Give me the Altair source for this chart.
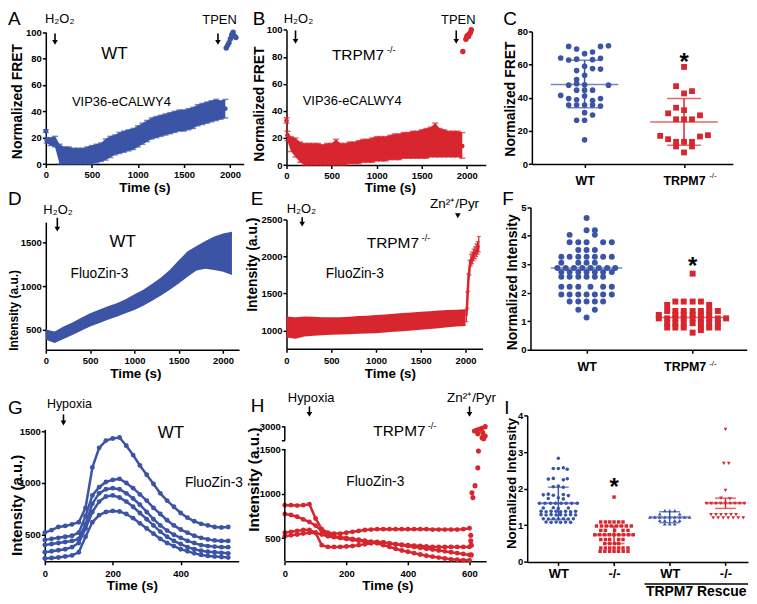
import altair as alt
import pandas as pd

W, H = 745, 590
BLUE = "#3b54a6"
RED = "#d8262e"
FONT = "Liberation Sans"
ONE = pd.DataFrame({"k": [0]})

# ======================= DATA =======================
# Panel A  (VIP36-eCALWY4, WT)
A_t = [0, 10, 50, 100, 150, 200, 250, 300, 350, 400, 450, 500, 550, 600, 650, 700, 750, 800, 850, 900,
       950, 1000, 1050, 1100, 1150, 1200, 1250, 1300, 1350, 1400, 1450, 1500, 1550, 1600, 1650, 1700,
       1750, 1800, 1850, 1900, 1950]
A_mean = [25, 18, 17, 17, 8, 6, 6, 5, 5, 5, 6, 7, 8, 9, 11, 13, 14, 16, 17, 18,
          19, 21, 23, 25, 27, 28, 29, 30, 31, 32, 33, 33, 34, 35, 37, 38, 39, 40, 41, 41, 42]
A_lo = [24, 16, 14, 13, 0, 0, 0, 0, 0, 0, 0, 0, 1, 2, 3, 5, 7, 8, 9, 10,
        11, 13, 15, 17, 19, 20, 21, 22, 23, 24, 25, 25, 26, 27, 29, 30, 31, 32, 33, 34, 35]
A_hi = [26, 20, 20, 21, 15, 13, 13, 12, 12, 12, 13, 14, 15, 16, 19, 21, 22, 24, 25, 26,
        27, 29, 31, 33, 35, 36, 37, 38, 39, 40, 41, 41, 42, 43, 45, 46, 47, 48, 49, 48, 49]
A_tpen_t = [1960, 1975, 1990, 2005, 2020, 2035, 2050, 2065]
A_tpen_v = [88, 90, 92, 95, 98, 100, 97, 96]
A_arrows = [100, 1870]

# Panel B  (VIP36-eCALWY4, TRPM7 -/-)
B_t = A_t
B_mean = [33, 22, 17, 14, 10, 8, 8, 7, 8, 7, 8, 7, 8, 8, 8, 9, 9, 9, 10, 10,
          10, 11, 11, 11, 12, 12, 12, 13, 13, 14, 14, 14, 14, 15, 16, 15, 15, 15, 15, 15, 14]
B_lo = [31, 18, 10, 6, 2, 0, 0, 0, 0, 0, 0, 0, 0, 0, 0, 1, 1, 1, 2, 2,
        2, 3, 3, 3, 4, 4, 4, 5, 5, 5, 5, 5, 5, 6, 6, 6, 6, 6, 6, 6, 5]
B_hi = [35, 25, 21, 20, 17, 16, 16, 16, 16, 15, 16, 16, 19, 16, 16, 17, 17, 18, 19, 19,
        20, 21, 21, 21, 22, 23, 23, 24, 24, 25, 25, 26, 27, 28, 31, 27, 26, 25, 25, 25, 24]
B_tpen_t = [1956, 1990, 2000, 2010, 2020, 2030, 2040, 2050]
B_tpen_v = [84, 93, 95, 96, 95, 97, 98, 100]
B_arrows = [100, 1883]

# Panel C  (Normalized FRET scatter)
C_wt_off = [-0.16, -0.08, 0, 0.08, 0.16, 0.24, -0.24, -0.16, -0.08, 0.08, 0.16, -0.08, 0, 0.08, 0.16,
            -0.08, 0, -0.16, 0, 0.24, -0.08, -0.08, 0, 0.08, -0.24, -0.16, -0.08, 0, 0.08, 0.16,
            -0.16, -0.08, 0, 0.08, 0.16, 0, 0.08, -0.08, 0, 0]
C_wt_val = [71.0, 69.4, 66.6, 67.6, 71.0, 71.4, 64.0, 62.8, 63.3, 63.0, 63.8, 56.4, 59.0, 57.6, 57.3,
            51.0, 53.6, 47.6, 47.8, 47.6, 48.5, 44.6, 44.6, 44.6, 41.4, 39.5, 38.8, 41.0, 38.3, 39.5,
            35.6, 35.6, 35.6, 35.6, 35.0, 31.0, 29.6, 26.4, 26.4, 14.6]
C_ko_off = [0, -0.08, 0, 0.08, -0.08, 0, -0.16, -0.08, 0, 0.08, 0.16, -0.24, -0.16, -0.08, 0, 0.08,
            0.16, 0.24, -0.08, 0.08, 0]
C_ko_val = [58.6, 47.0, 42.6, 44.0, 34.0, 32.5, 30.6, 27.0, 27.0, 27.0, 29.4, 17.0, 15.0, 13.4, 13.4,
            13.4, 16.6, 17.4, 10.6, 10.6, 7.0]
C_pos = [1, 2]
C_kind = ["WT", "KO"]
C_mean = [48.0, 25.4]
C_upper = [62.6, 39.6]
C_lower = [34.0, 11.4]
C_labels = ["WT", "TRPM7"]

# Panel D  (FluoZin-3, WT)
D_t = [0, 100, 200, 300, 400, 500, 600, 700, 800, 900, 1000, 1100, 1200, 1300, 1400, 1500, 1600,
       1700, 1800, 1900, 2000, 2100]
D_lo = [386, 348, 394, 440, 490, 538, 575, 615, 650, 690, 728, 775, 835, 895, 960, 1032, 1110,
        1180, 1200, 1185, 1165, 1130]
D_hi = [505, 480, 538, 585, 640, 690, 730, 770, 805, 850, 908, 960, 1030, 1100, 1190, 1298, 1400,
        1460, 1520, 1570, 1605, 1625]
D_arrows = [130]

# Panel E  (FluoZin-3, TRPM7 -/-)
E_t = [0, 100, 200, 300, 400, 500, 600, 700, 800, 900, 1000, 1100, 1200, 1300, 1400, 1500, 1600,
       1700, 1800, 1900, 2000]
E_lo = [905, 890, 920, 930, 935, 942, 945, 950, 955, 960, 964, 972, 982, 992, 1000, 1009, 1020,
        1032, 1043, 1053, 1062]
E_hi = [1190, 1180, 1190, 1185, 1180, 1178, 1180, 1185, 1195, 1200, 1210, 1218, 1227, 1236, 1245,
        1254, 1262, 1270, 1276, 1282, 1286]
E2_t = [2010, 2020, 2030, 2045, 2060, 2075, 2090, 2105, 2120, 2135, 2148]
E2_m = [1200, 1400, 1650, 1850, 1950, 1980, 2020, 2050, 2080, 2100, 2150]
E2_lo = [1120, 1300, 1530, 1750, 1870, 1900, 1940, 1970, 2000, 2030, 2060]
E2_hi = [1280, 1520, 1770, 1950, 2030, 2060, 2100, 2130, 2170, 2200, 2270]
E_arrows = [175]
E_zn = [1914]

# Panel F  (Normalized intensity scatter)
F_wt_off = [0, 0, 0.078, -0.16, 0.078, -0.16, -0.078, 0, 0.156, 0.238, -0.078, 0, 0.078,
            -0.238, -0.16, -0.078, 0, 0.078, 0.156, 0.238, -0.238, -0.078, 0, 0.078,
            -0.275, -0.197, -0.119, -0.04, 0.037, 0.116, 0.194, 0.27,
            -0.238, -0.16, -0.078, 0, 0.078, 0.156, 0.238, -0.238, -0.16, -0.078, 0, 0.078, 0.156,
            -0.238, -0.16, -0.078, 0.037, 0.156, 0.238, -0.238, -0.16, -0.078, 0, 0.078, 0.156, 0.238,
            -0.16, -0.078, 0, 0.078, 0.156, -0.078, 0.078, 0]
F_wt_val = [4.62, 4.19, 4.19, 4.03, 4.03, 3.77, 3.77, 3.77, 3.77, 3.77, 3.5, 3.5, 3.5,
            3.26, 3.26, 3.26, 3.26, 3.26, 3.26, 3.26, 3.05, 3.05, 3.05, 3.05,
            2.87, 2.87, 2.87, 2.87, 2.87, 2.87, 2.87, 2.87,
            2.73, 2.73, 2.73, 2.73, 2.73, 2.73, 2.73, 2.56, 2.56, 2.56, 2.56, 2.56, 2.56,
            2.21, 2.21, 2.21, 2.21, 2.21, 2.21, 1.94, 1.94, 1.94, 1.94, 1.94, 1.94, 1.94,
            1.69, 1.69, 1.69, 1.69, 1.69, 1.40, 1.40, 1.13]
F_ko_off = [0, -0.163, -0.084, 0, 0.078, -0.24, 0.156, -0.24, -0.163, -0.084, 0, 0.078, 0.156, 0.238,
            -0.319, -0.163, -0.084, 0, 0.078, 0.156, -0.319, -0.24, -0.163, -0.084, 0, 0.078, 0.156,
            0.238, 0.316, -0.24, -0.163, -0.084, 0, 0.078, 0.156, 0.238, -0.24, -0.163, -0.084,
            0.078, 0.156, 0.238, 0.078, 0]
F_ko_val = [2.67, 1.69, 1.69, 1.69, 1.69, 1.57, 1.57, 1.36, 1.36, 1.36, 1.36, 1.36, 1.36, 1.36,
            1.22, 1.22, 1.22, 1.22, 1.22, 1.22, 1.10, 1.10, 1.10, 1.10, 1.10, 1.10, 1.10,
            1.10, 1.10, 0.93, 0.93, 0.93, 0.93, 0.93, 0.93, 0.93, 0.78, 0.78, 0.78,
            0.78, 0.78, 0.78, 0.69, 0.60]
F_pos = [1, 2]
F_kind = ["WT", "KO"]
F_mean = [2.87, 1.13]

# Panel G  (Hypoxia, WT single-cell traces)
G_t = [0, 20, 40, 60, 80, 100, 120, 140, 160, 180, 200, 220, 240, 260, 280, 300, 320, 340, 360, 380,
       400, 420, 440, 460, 480, 500, 520, 540]
G_c1 = [520, 545, 575, 585, 600, 620, 760, 1150, 1340, 1410, 1430, 1440, 1360, 1270, 1170, 1080, 990,
        900, 830, 770, 710, 665, 630, 605, 590, 575, 570, 575]
G_c2 = [450, 460, 470, 480, 490, 520, 680, 880, 960, 1010, 1030, 1040, 1000, 950, 890, 830, 760, 700,
        640, 590, 550, 520, 490, 470, 455, 445, 440, 440]
G_c3 = [400, 410, 420, 430, 440, 460, 600, 800, 900, 940, 950, 940, 900, 850, 790, 720, 650, 590, 540,
        500, 470, 440, 420, 400, 390, 385, 380, 380]
G_c4 = [330, 340, 350, 360, 380, 420, 560, 720, 820, 870, 880, 860, 820, 770, 710, 650, 590, 530, 480,
        440, 410, 380, 360, 345, 335, 330, 325, 320]
G_c5 = [270, 275, 280, 290, 300, 330, 480, 620, 690, 720, 730, 725, 700, 660, 610, 560, 510, 460, 420,
        390, 360, 340, 320, 305, 295, 290, 285, 280]
G_arrows = [55]

# Panel H  (Hypoxia, TRPM7 -/- single-cell traces)
H_t = [0, 20, 40, 60, 80, 100, 120, 140, 160, 180, 200, 220, 240, 260, 280, 300, 320, 340, 360, 380,
       400, 420, 440, 460, 480, 500, 520, 540, 560, 580, 600]
H_c1 = [870, 870, 865, 870, 880, 720, 600, 560, 550, 550, 560, 570, 580, 590, 595, 600, 600, 600, 600,
        600, 600, 600, 600, 600, 595, 595, 595, 595, 595, 600, 610]
H_c2 = [770, 760, 740, 710, 680, 640, 580, 540, 520, 510, 500, 490, 480, 470, 460, 455, 450, 440, 430,
        420, 410, 400, 390, 380, 370, 360, 350, 340, 330, 320, 310]
H_c3 = [560, 570, 580, 590, 590, 560, 420, 400, 400, 400, 405, 410, 420, 430, 440, 450, 450, 440, 430,
        425, 420, 415, 410, 405, 400, 400, 400, 400, 400, 400, 400]
H_c4 = [520, 530, 540, 550, 560, 560, 540, 520, 510, 500, 490, 480, 470, 460, 450, 440, 420, 400, 380,
        360, 345, 330, 315, 300, 290, 280, 270, 260, 255, 250, 250]
H_post_t = [604, 604, 606, 606, 608, 611, 618, 627, 629, 616, 624, 627, 632, 640, 641, 643, 646, 651, 651]
H_post_v = [530, 470, 420, 310, 1010, 955, 1090, 1290, 1480, 2805, 2850, 2685, 2880, 2925, 2505, 2730,
            2460, 3000, 2580]
H_arrows = [80, 600]
H_break_lo = [238, 2400]
H_break_hi = [1500, 3000]

# Panel I  (Normalized intensity with rescue)
I_wt_off = [0, -0.09, 0, 0.09, 0.16, -0.18, -0.09, 0.09, 0.16, -0.09, 0, 0.09,
            -0.27, -0.18, -0.09, 0.09, 0.18, -0.18, 0, 0.09,
            -0.34, -0.24, -0.14, -0.05, 0.05, 0.14, 0.24, 0.34, -0.27, -0.09, 0, 0.18,
            -0.31, -0.22, -0.13, -0.04, 0.04, 0.13, 0.22, 0.31,
            -0.31, -0.22, -0.13, -0.04, 0.04, 0.13, 0.22, 0.31,
            -0.27, -0.18, -0.09, 0, 0.09, 0.18, 0.27, -0.22, -0.13, -0.04, 0.04, 0.13, 0.22]
I_wt_val = [2.83, 2.55, 2.55, 2.57, 2.53, 2.26, 2.28, 2.24, 2.27, 2.05, 2.07, 2.04,
            1.83, 1.85, 1.82, 1.84, 1.81, 1.73, 1.75, 1.72,
            1.6, 1.6, 1.6, 1.6, 1.6, 1.6, 1.6, 1.6, 1.47, 1.48, 1.46, 1.47,
            1.38, 1.37, 1.38, 1.38, 1.37, 1.38, 1.37, 1.38,
            1.29, 1.28, 1.29, 1.28, 1.29, 1.28, 1.29, 1.28,
            1.18, 1.17, 1.18, 1.17, 1.18, 1.17, 1.18, 1.09, 1.08, 1.09, 1.08, 1.09, 1.08]
I_ko_off = [0, -0.24, -0.155, -0.077, 0, 0.083, 0.161,
            -0.315, -0.226, -0.137, -0.048, 0.042, 0.131, 0.22, 0.31,
            -0.238, -0.155, 0.01, 0.161, 0.25,
            -0.345, -0.26, -0.17, -0.085, 0, 0.085, 0.17, 0.26, 0.345,
            -0.238, -0.155, -0.077, 0.083, 0.161, -0.167, -0.077, 0.01, 0.083,
            -0.238, -0.155, -0.077, 0, 0.083, 0.161, 0.25,
            -0.25, -0.165, -0.08, 0, 0.08, 0.165, 0.25]
I_ko_val = [1.77, 1.09, 1.09, 1.09, 1.09, 1.09, 1.09,
            0.98, 0.98, 0.98, 0.98, 0.98, 0.98, 0.98, 0.98,
            0.86, 0.86, 0.86, 0.86, 0.86,
            0.74, 0.74, 0.74, 0.74, 0.74, 0.74, 0.74, 0.74, 0.74,
            0.61, 0.61, 0.61, 0.61, 0.61, 0.50, 0.50, 0.50, 0.50,
            0.38, 0.38, 0.38, 0.38, 0.38, 0.38, 0.38,
            0.29, 0.29, 0.29, 0.29, 0.29, 0.29, 0.29]
I_rwt_off = [-0.089, 0, 0.089, -0.179, 0.179, -0.357, -0.268, -0.179, -0.089, 0, 0.089, 0.179, 0.268,
             0.357, -0.179, -0.089, 0.089, 0.179, -0.089, 0, 0.089]
I_rwt_val = [1.40, 1.40, 1.40, 1.31, 1.31, 1.22, 1.22, 1.22, 1.22, 1.22, 1.22, 1.22, 1.22, 1.22,
             1.13, 1.13, 1.13, 1.13, 1.04, 1.04, 1.04]
I_rko_off = [0, -0.03, 0.06, 0, -0.08, 0.08, -0.34, -0.255, -0.17, -0.085, 0, 0.085, 0.17, 0.255, 0.34,
             -0.26, -0.17, -0.08, 0.01, 0.1, 0.19, -0.22, -0.13, -0.04, 0.05, 0.14, 0.23, 0.32]
I_rko_val = [3.62, 2.69, 2.69, 1.95, 1.74, 1.72, 1.6, 1.6, 1.6, 1.6, 1.6, 1.6, 1.6, 1.6, 1.6,
             1.29, 1.29, 1.29, 1.29, 1.29, 1.29, 1.2, 1.2, 1.2, 1.2, 1.2, 1.2, 1.2]
I_pos = [1, 2, 3, 4]
I_kind = ["WT", "KO", "WT", "KO"]
I_mean = [1.60, 0.74, 1.22, 1.60]
I_upper = [2.04, 0.98, 1.37, 1.74]
I_lower = [1.16, 0.50, 1.07, 1.46]
I_labels = ["WT", "-/-", "WT", "-/-"]

# ======================= HELPERS =======================
COLOR = alt.Color("kind:N", scale=alt.Scale(domain=["WT", "KO"], range=[BLUE, RED]), legend=None)


def scale_fn(dom, rng, ch, axis):
    sc = alt.Scale(domain=dom, range=rng, nice=False, zero=False, type="linear")

    def f(field):
        if ch == "x":
            return alt.X(field, type="quantitative", scale=sc, axis=axis)
        return alt.Y(field, type="quantitative", scale=sc, axis=axis)
    return f


def xaxis(y, values, title=None, title_x=None, title_y=None, pad=3.5, size=9.5, expr=None, tsize=13.5,
          **extra):
    kw = dict(orient="bottom", offset=y - H, values=values, labelPadding=pad, labelFontSize=size,
              format="d")
    if title is None:
        kw["title"] = None
    else:
        kw.update(title=title, titleY=title_y, titleBaseline="alphabetic", titleFontSize=tsize)
        if title_x is not None:
            kw["titleX"] = title_x
    if expr:
        kw["labelExpr"] = expr
    kw.update(extra)
    return alt.Axis(**kw)


def yaxis(x, values, title, title_x, title_y, tsize=14, expr=None, domain=True):
    kw = dict(orient="left", offset=-x, values=values, title=title, titleX=title_x, titleY=title_y,
              titleBaseline="middle", titleAngle=-90, titleAlign="center", titleFontSize=tsize,
              labelPadding=1, format="d")
    if expr:
        kw["labelExpr"] = expr
    if not domain:
        kw["domain"] = False
    return alt.Axis(**kw)


def txt(s, x, y, size, weight="normal", align="center", color="black"):
    return alt.Chart(ONE).mark_text(text=s, font=FONT, fontSize=size, fontWeight=weight, align=align,
                                    baseline="alphabetic", color=color).encode(x=alt.value(x), y=alt.value(y))


def arrows(X, ts, y0, y1, shaft=True):
    df = pd.DataFrame({"t": ts})
    out = []
    if shaft:
        out.append(alt.Chart(df).mark_rule(color="black", strokeWidth=1.6).encode(
            x=X("t"), y=alt.value(y0), y2=alt.value(y1 - 3)))
    out.append(alt.Chart(df).mark_point(shape="triangle-down", filled=True, size=32, color="black",
                                        opacity=1, strokeWidth=0).encode(x=X("t"), y=alt.value(y1 - 3)))
    return out


def star(X, pos, y, size=24):
    return alt.Chart(pd.DataFrame({"g": [pos]})).mark_text(
        text="*", font=FONT, fontSize=size, fontWeight="bold", baseline="alphabetic", color="black"
    ).encode(x=X("g"), y=alt.value(y))


def band_panel(X, Y, t, lo, hi, color, caps=True):
    df = pd.DataFrame({"t": t, "lo": lo, "hi": hi})
    out = [alt.Chart(df).mark_area(color=color, opacity=1).encode(x=X("t"), y=Y("lo"), y2="hi")]
    if caps:
        for f in ("lo", "hi"):
            out.append(alt.Chart(df).mark_tick(orient="horizontal", size=6, thickness=1.5, color=color)
                       .encode(x=X("t"), y=Y(f)))
    return out


# ======================= PANEL A =======================
XA = scale_fn([0, 2150], [38, 237], "x", xaxis(155.3, [0, 500, 1000, 1500, 2000], "Time (s)", 137, 28, pad=2))
YA = scale_fn([0, 100], [155.3, 22.7], "y", yaxis(38, [0, 20, 40, 60, 80, 100], "Normalized FRET", -28.5, 92))
dfA = pd.DataFrame({"t": A_t, "m": A_mean})
panelA = alt.layer(
    *band_panel(XA, YA, A_t, A_lo, A_hi, BLUE),
    alt.Chart(dfA).mark_circle(size=22, color=BLUE, opacity=1).encode(x=XA("t"), y=YA("m")),
    alt.Chart(pd.DataFrame({"t": A_tpen_t, "v": A_tpen_v})).mark_circle(size=30, color=BLUE, opacity=1)
    .encode(x=XA("t"), y=YA("v")),
    *arrows(XA, A_arrows, 24, 36),
    txt("H₂O₂", 52, 13, 13), txt("TPEN", 212.7, 14, 13),
    txt("WT", 107, 49.3, 17), txt("VIP36-eCALWY4", 114, 97, 13),
    txt("A", 0, 16, 19, align="left"),
)

# ======================= PANEL B =======================
XB = scale_fn([0, 2210], [280, 480.3], "x", xaxis(156.3, [0, 500, 1000, 1500, 2000], "Time (s)", 384, 27, pad=2.5))
YB = scale_fn([0, 100], [156.3, 20.3], "y", yaxis(280, [0, 20, 40, 60, 80, 100], "Normalized FRET", -27, 94.5))
dfB = pd.DataFrame({"t": B_t, "m": B_mean})
panelB = alt.layer(
    *band_panel(XB, YB, B_t, B_lo, B_hi, RED),
    alt.Chart(dfB).mark_circle(size=22, color=RED, opacity=1).encode(x=XB("t"), y=YB("m")),
    alt.Chart(pd.DataFrame({"t": B_tpen_t, "v": B_tpen_v})).mark_circle(size=30, color=RED, opacity=1)
    .encode(x=XB("t"), y=YB("v")),
    *arrows(XB, B_arrows, 21, 35),
    txt("H₂O₂", 292, 13, 13), txt("TPEN", 452.7, 14, 13),
    txt("TRPM7", 325.7, 51, 15.5, align="left"), txt("-/-", 381, 44, 9, align="left"),
    txt("VIP36-eCALWY4", 346, 96.3, 13),
    txt("B", 246, 16, 19, align="left"),
)

# ======================= PANEL C =======================
expr_C = "['','" + C_labels[0] + "','" + C_labels[1] + "'][datum.value]"
XC = scale_fn([0.47, 2.49], [526.7, 728.7], "x", xaxis(155.3, C_pos, None, pad=7.3, size=12.5, expr=expr_C))
YC = scale_fn([0, 80], [155.3, 22], "y", yaxis(526.7, [0, 20, 40, 60, 80], "Normalized FRET", -21.2, 89.5))
dfCw = pd.DataFrame({"x": [C_pos[0] + o for o in C_wt_off], "v": C_wt_val})
dfCk = pd.DataFrame({"x": [C_pos[1] + o for o in C_ko_off], "v": C_ko_val})
dfCs = pd.DataFrame({"g": C_pos, "kind": C_kind, "m": C_mean, "lo": C_lower, "hi": C_upper})
panelC = alt.layer(
    alt.Chart(dfCw).mark_circle(size=32, color=BLUE, opacity=1).encode(x=XC("x"), y=YC("v")),
    alt.Chart(dfCk).mark_point(shape="square", filled=True, size=34, color=RED, opacity=1, strokeWidth=0)
    .encode(x=XC("x"), y=YC("v")),
    alt.Chart(dfCs).mark_rule(strokeWidth=1.5).encode(x=XC("g"), y=YC("lo"), y2="hi", color=COLOR),
    alt.Chart(dfCs).mark_tick(orient="horizontal", size=34, thickness=1.5).encode(x=XC("g"), y=YC("hi"), color=COLOR),
    alt.Chart(dfCs).mark_tick(orient="horizontal", size=34, thickness=1.5).encode(x=XC("g"), y=YC("lo"), color=COLOR),
    alt.Chart(dfCs).mark_tick(orient="horizontal", size=68, thickness=1.5).encode(x=XC("g"), y=YC("m"), color=COLOR),
    star(XC, 2, 61),
    txt("-/-", 705, 169, 8, align="left"),
    txt("C", 498, 16, 19, align="left"),
)

# ======================= PANEL D =======================
XD = scale_fn([0, 2180], [38, 232.3], "x", xaxis(342, [0, 500, 1000, 1500, 2000], "Time (s)", 128, 27.5, pad=2))
YD = scale_fn([272, 1735], [342, 213.7], "y", yaxis(38, [500, 1000, 1500], "Intensity (a.u.)", -32.5, 302, tsize=12))
panelD = alt.layer(
    *band_panel(XD, YD, D_t, D_lo, D_hi, BLUE, caps=False),
    *arrows(XD, D_arrows, 209.3, 223.7),
    txt("H₂O₂", 50.3, 206, 13),
    txt("WT", 115.3, 238.7, 17), txt("FluoZin-3", 92, 270, 13.8),
    txt("D", 0, 196, 19, align="left"),
)

# ======================= PANEL E =======================
XE = scale_fn([0, 2190], [280, 477.1], "x", xaxis(341, [0, 500, 1000, 1500, 2000], "Time (s)", 384, 28.5, pad=3.5))
YE = scale_fn([754, 2500], [341, 211], "y", yaxis(280, [1000, 1500, 2000, 2500], "Intensity (a.u.)", -34, 256, tsize=14))
dfE2 = pd.DataFrame({"t": E2_t, "m": E2_m, "lo": E2_lo, "hi": E2_hi})
panelE = alt.layer(
    *band_panel(XE, YE, E_t, E_lo, E_hi, RED, caps=False),
    alt.Chart(dfE2).mark_rule(color=RED, strokeWidth=1.3).encode(x=XE("t"), y=YE("lo"), y2="hi"),
    alt.Chart(dfE2).mark_tick(orient="horizontal", size=4, thickness=1.3, color=RED).encode(x=XE("t"), y=YE("hi")),
    alt.Chart(dfE2).mark_tick(orient="horizontal", size=4, thickness=1.3, color=RED).encode(x=XE("t"), y=YE("lo")),
    alt.Chart(dfE2).mark_line(color=RED, strokeWidth=2.5).encode(x=XE("t"), y=YE("m")),
    *arrows(XE, E_arrows, 208.7, 218.7),
    *arrows(XE, E_zn, 203.7, 210.3, shaft=False),
    txt("H₂O₂", 295, 204.3, 13), txt("Zn²⁺/Pyr", 449, 199.3, 13.5),
    txt("TRPM7", 360.7, 239.7, 15.5, align="left"), txt("-/-", 416, 233, 9, align="left"),
    txt("FluoZin-3", 348.7, 270, 13.8),
    txt("E", 244, 196, 19, align="left"),
)

# ======================= PANEL F =======================
expr_F = "['','" + C_labels[0] + "','" + C_labels[1] + "'][datum.value]"
XF = scale_fn([0.471, 2.51], [525.3, 742.7], "x",
              xaxis(342, F_pos, None, pad=7.6, size=12.5, expr=expr_F,
                    labelOffset={"condition": {"test": "datum.value == 2", "value": -8}, "value": 0}))
YF = scale_fn([0, 5], [342, 198.7], "y", yaxis(525.3, [0, 1, 2, 3, 4, 5], "Normalized Intensity", -17.8, 273.7, tsize=14))
dfFw = pd.DataFrame({"x": [F_pos[0] + o for o in F_wt_off], "v": F_wt_val})
dfFk = pd.DataFrame({"x": [F_pos[1] + o for o in F_ko_off], "v": F_ko_val})
dfFs = pd.DataFrame({"g": F_pos, "kind": F_kind, "m": F_mean})
panelF = alt.layer(
    alt.Chart(dfFw).mark_circle(size=36, color=BLUE, opacity=1).encode(x=XF("x"), y=YF("v")),
    alt.Chart(dfFk).mark_point(shape="square", filled=True, size=36, color=RED, opacity=1, strokeWidth=0)
    .encode(x=XF("x"), y=YF("v")),
    alt.Chart(dfFs).mark_tick(orient="horizontal", size=72, thickness=1.5).encode(x=XF("g"), y=YF("m"), color=COLOR),
    star(XF, 2, 266),
    txt("-/-", 705, 358.5, 8, align="left"),
    txt("F", 497, 196, 19, align="left"),
)

# ======================= PANEL G =======================
XG = scale_fn([0, 571], [37, 232], "x", xaxis(554.7, [0, 200, 400], "Time (s)", 124.5, 28, pad=3.5))
YG = scale_fn([243, 1519], [554.7, 422], "y", yaxis(37, [500, 1000, 1500], "Intensity (a.u.)", -28.5, 498, tsize=15))
dfG = pd.concat([pd.DataFrame({"t": G_t, "v": c, "id": i}) for i, c in
                 enumerate([G_c1, G_c2, G_c3, G_c4, G_c5])])
panelG = alt.layer(
    alt.Chart(dfG).mark_line(color=BLUE, strokeWidth=2.5).encode(x=XG("t"), y=YG("v"), detail="id:N"),
    alt.Chart(dfG).mark_circle(size=24, color=BLUE, opacity=1).encode(x=XG("t"), y=YG("v")),
    *arrows(XG, G_arrows, 407, 418.7),
    txt("Hypoxia", 61.7, 401, 12.5),
    txt("WT", 163.7, 430.3, 17), txt("FluoZin-3", 207, 480, 13.8),
    txt("G", 0, 407, 19, align="left"),
)

# ======================= PANEL H =======================
XH = scale_fn([0, 654], [278.3, 480.7], "x", xaxis(554.7, [0, 200, 400, 600], "Time (s)", 381.5, 28, pad=3.5))
YH = scale_fn([238, 1500, 2400, 3000], [554.7, 442, 432.7, 419.3], "y",
              yaxis(278.3, [500, 1000, 1500, 2400, 3000], "Intensity (a.u.)", -31, 472, tsize=15.5,
                    expr="datum.value == 2400 ? '' : datum.label", domain=False))
dfH = pd.concat([pd.DataFrame({"t": H_t, "v": c, "id": i}) for i, c in
                 enumerate([H_c1, H_c2, H_c3, H_c4])])
dfHax = pd.DataFrame({"x": [0, 0], "lo": H_break_lo, "hi": H_break_hi})
panelH = alt.layer(
    alt.Chart(dfH).mark_line(color=RED, strokeWidth=2.5).encode(x=XH("t"), y=YH("v"), detail="id:N"),
    alt.Chart(dfH).mark_circle(size=24, color=RED, opacity=1).encode(x=XH("t"), y=YH("v")),
    alt.Chart(pd.DataFrame({"t": H_post_t, "v": H_post_v})).mark_circle(size=26, color=RED, opacity=1)
    .encode(x=XH("t"), y=YH("v")),
    alt.Chart(dfHax).mark_rule(color="black", strokeWidth=1.5).encode(x=XH("x"), y=YH("lo"), y2="hi"),
    *arrows(XH, H_arrows, 399, 410),
    txt("Hypoxia", 304.8, 395, 13), txt("Zn²⁺/Pyr", 466, 395, 13.5),
    txt("TRPM7", 367.3, 428.7, 15.5, align="left"), txt("-/-", 422, 422, 9, align="left"),
    txt("FluoZin-3", 369.3, 479.3, 13.8),
    txt("H", 244, 405, 19, align="left"),
)

# ======================= PANEL I =======================
expr_I = "['','" + "','".join(I_labels) + "'][datum.value]"
XI = scale_fn([0.441, 4.405], [522, 744], "x", xaxis(555.3, I_pos, None, pad=2.2, size=13, expr=expr_I))
YI = scale_fn([0, 4], [555.3, 408], "y", yaxis(522, [0, 1, 2, 3, 4], "Normalized Intensity", -16, 476, tsize=13.5))
dfIw = pd.DataFrame({"x": [I_pos[0] + o for o in I_wt_off], "v": I_wt_val})
dfIk = pd.DataFrame({"x": [I_pos[1] + o for o in I_ko_off], "v": I_ko_val})
dfIrw = pd.DataFrame({"x": [I_pos[2] + o for o in I_rwt_off], "v": I_rwt_val})
dfIrk = pd.DataFrame({"x": [I_pos[3] + o for o in I_rko_off], "v": I_rko_val})
dfIs = pd.DataFrame({"g": I_pos, "kind": I_kind, "m": I_mean, "lo": I_lower, "hi": I_upper})
panelI = alt.layer(
    alt.Chart(dfIw).mark_circle(size=13, color=BLUE, opacity=1).encode(x=XI("x"), y=YI("v")),
    alt.Chart(dfIk).mark_point(shape="square", filled=True, size=12, color=RED, opacity=1, strokeWidth=0)
    .encode(x=XI("x"), y=YI("v")),
    alt.Chart(dfIrw).mark_point(shape="triangle-up", filled=True, size=14, color=BLUE, opacity=1, strokeWidth=0)
    .encode(x=XI("x"), y=YI("v")),
    alt.Chart(dfIrk).mark_point(shape="triangle-down", filled=True, size=14, color=RED, opacity=1, strokeWidth=0)
    .encode(x=XI("x"), y=YI("v")),
    alt.Chart(dfIs).mark_rule(strokeWidth=1.5).encode(x=XI("g"), y=YI("lo"), y2="hi", color=COLOR),
    alt.Chart(dfIs).mark_tick(orient="horizontal", size=21, thickness=1.5).encode(x=XI("g"), y=YI("hi"), color=COLOR),
    alt.Chart(dfIs).mark_tick(orient="horizontal", size=21, thickness=1.5).encode(x=XI("g"), y=YI("lo"), color=COLOR),
    alt.Chart(dfIs).mark_tick(orient="horizontal", size=41, thickness=2).encode(x=XI("g"), y=YI("m"), color=COLOR),
    star(XI, 2, 488.5),
    alt.Chart(ONE).mark_rule(color="black", strokeWidth=1.3).encode(
        x=alt.value(640), x2=alt.value(744), y=alt.value(577.5)),
    txt("TRPM7 Rescue", 692, 590, 14, weight="bold"),
    txt("I", 499, 407, 19, align="left"),
)

# ======================= ASSEMBLY =======================
chart = (
    alt.layer(panelA, panelB, panelC, panelD, panelE, panelF, panelG, panelH, panelI)
    .resolve_scale(x="independent", y="independent")
    .resolve_axis(x="independent", y="independent")
    .properties(width=W, height=H, padding=0, autosize=alt.AutoSizeParams(type="none"))
    .configure_axis(grid=False, labelFont=FONT, titleFont=FONT, labelFontWeight="bold",
                    titleFontWeight="bold", labelColor="black", titleColor="black",
                    domainColor="black", tickColor="black", domainWidth=1.5, tickWidth=1.5,
                    tickSize=3.5, labelFontSize=9.5, titleFontSize=14, labelFlush=False,
                    labelOverlap=False)
    .configure_view(stroke=None)
    .configure_text(font=FONT)
)

chart.save("out.html", embed_options={"renderer": "svg", "actions": False})
